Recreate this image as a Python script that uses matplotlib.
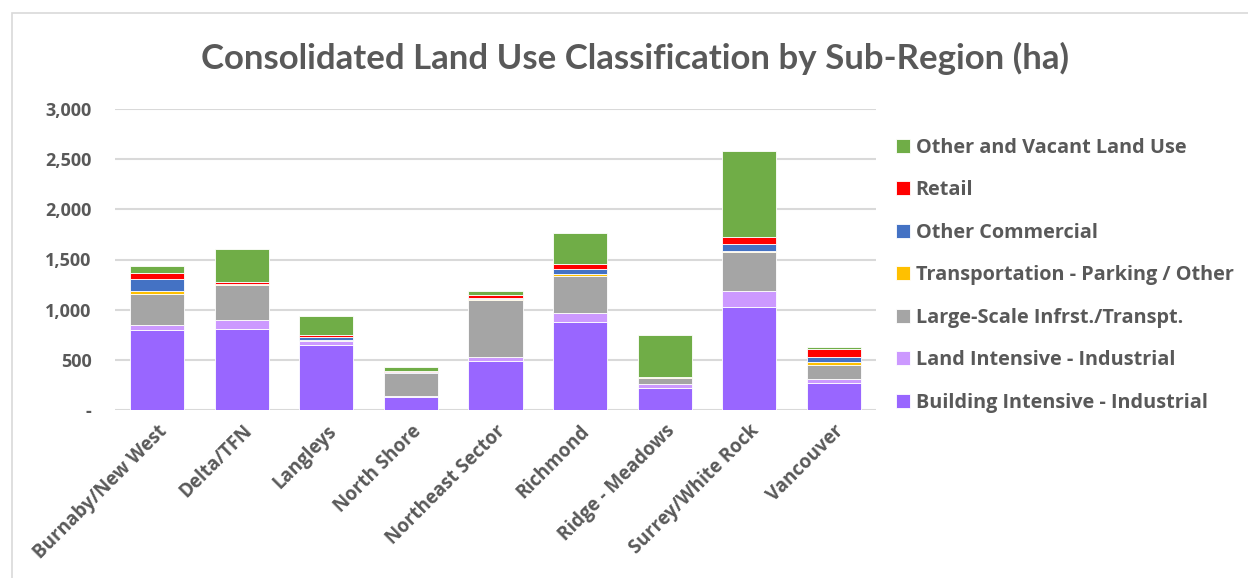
import numpy as np
import matplotlib
matplotlib.use("Agg")
import matplotlib.pyplot as plt
from matplotlib.patches import Rectangle

plt.rcParams['font.family'] = ['Open Sans', 'DejaVu Sans']

regions = ["Burnaby/New West", "Delta/TFN", "Langleys", "North Shore",
           "Northeast Sector", "Richmond", "Ridge - Meadows",
           "Surrey/White Rock", "Vancouver"]

# hectares per land use, stacked bottom to top
building_ind = [800, 811, 651, 125, 492, 880, 222, 1030, 272]
land_ind = [50, 90, 35, 15, 36, 84, 37, 156, 37]
large_infra = [310, 340, 10, 225, 569, 372, 63, 392, 140]
transport_park = [30, 10, 5, 3, 10, 20, 3, 10, 33]
other_comm = [115, 5, 25, 12, 5, 53, 3, 67, 43]
retail = [57, 20, 23, 10, 35, 50, 3, 73, 83]
vacant = [76, 325, 192, 35, 43, 309, 414, 857, 20]

series = [
    ("Building Intensive - Industrial", building_ind, "#9966FF"),
    ("Land Intensive - Industrial", land_ind, "#CC99FF"),
    ("Large-Scale Infrst./Transpt.", large_infra, "#A5A5A5"),
    ("Transportation - Parking / Other", transport_park, "#FFC000"),
    ("Other Commercial", other_comm, "#4472C4"),
    ("Retail", retail, "#FF0000"),
    ("Other and Vacant Land Use", vacant, "#70AD47"),
]

txt = "#595959"
fig = plt.figure(figsize=(12.48, 5.78), dpi=100)
fig.patches.append(Rectangle((12 / 1248, -0.1), 1.2, 1 - 13 / 578 + 0.1,
                             transform=fig.transFigure, fill=False,
                             edgecolor="#D9D9D9", linewidth=1.2))
ax = fig.add_axes([115 / 1248, 1 - 410 / 578, 761 / 1248, 301 / 578])

x = np.arange(len(regions))
bottom = np.zeros(len(regions))
handles = []
for name, vals, col in series:
    b = ax.bar(x, vals, 0.64, bottom=bottom, color=col, edgecolor="white",
               linewidth=0.6, label=name, zorder=3)
    handles.append(b)
    bottom += np.array(vals)

ax.set_xlim(-0.5, len(regions) - 0.5)
ax.set_ylim(0, 3000)
ax.set_yticks(np.arange(0, 3001, 500))
ax.set_yticklabels(["-"] + [f"{v:,}" for v in range(500, 3001, 500)])
ax.yaxis.grid(True, color="#D9D9D9", linewidth=1.5, zorder=0)
for s in ax.spines.values():
    s.set_visible(False)
ax.tick_params(length=0)
ax.tick_params(axis="y", pad=17, labelcolor=txt, labelsize=13)
ax.set_xticks(x)
ax.set_xticklabels(regions, rotation=45, ha="right", rotation_mode="anchor",
                   color=txt, fontsize=13.5, fontweight="bold")
for lbl in ax.get_yticklabels():
    lbl.set_fontweight("bold")
ax.tick_params(axis="x", pad=8)

fig.text(635 / 1248, 1 - 58 / 578, "Consolidated Land Use Classification by Sub-Region (ha)",
         ha="center", va="center", fontsize=25, fontweight="bold", color=txt,
         family=["Lato", "DejaVu Sans"])

leg = fig.legend(handles[::-1], [s[0] for s in series][::-1],
                 loc="upper left", bbox_to_anchor=(878 / 1248, 1 - 120 / 578),
                 frameon=False, handlelength=0.7, handleheight=0.7,
                 handletextpad=0.3, labelspacing=1.13,
                 prop={"size": 14.3, "weight": "bold"})
for t in leg.get_texts():
    t.set_color(txt)

fig.savefig("out.png", dpi=100)
